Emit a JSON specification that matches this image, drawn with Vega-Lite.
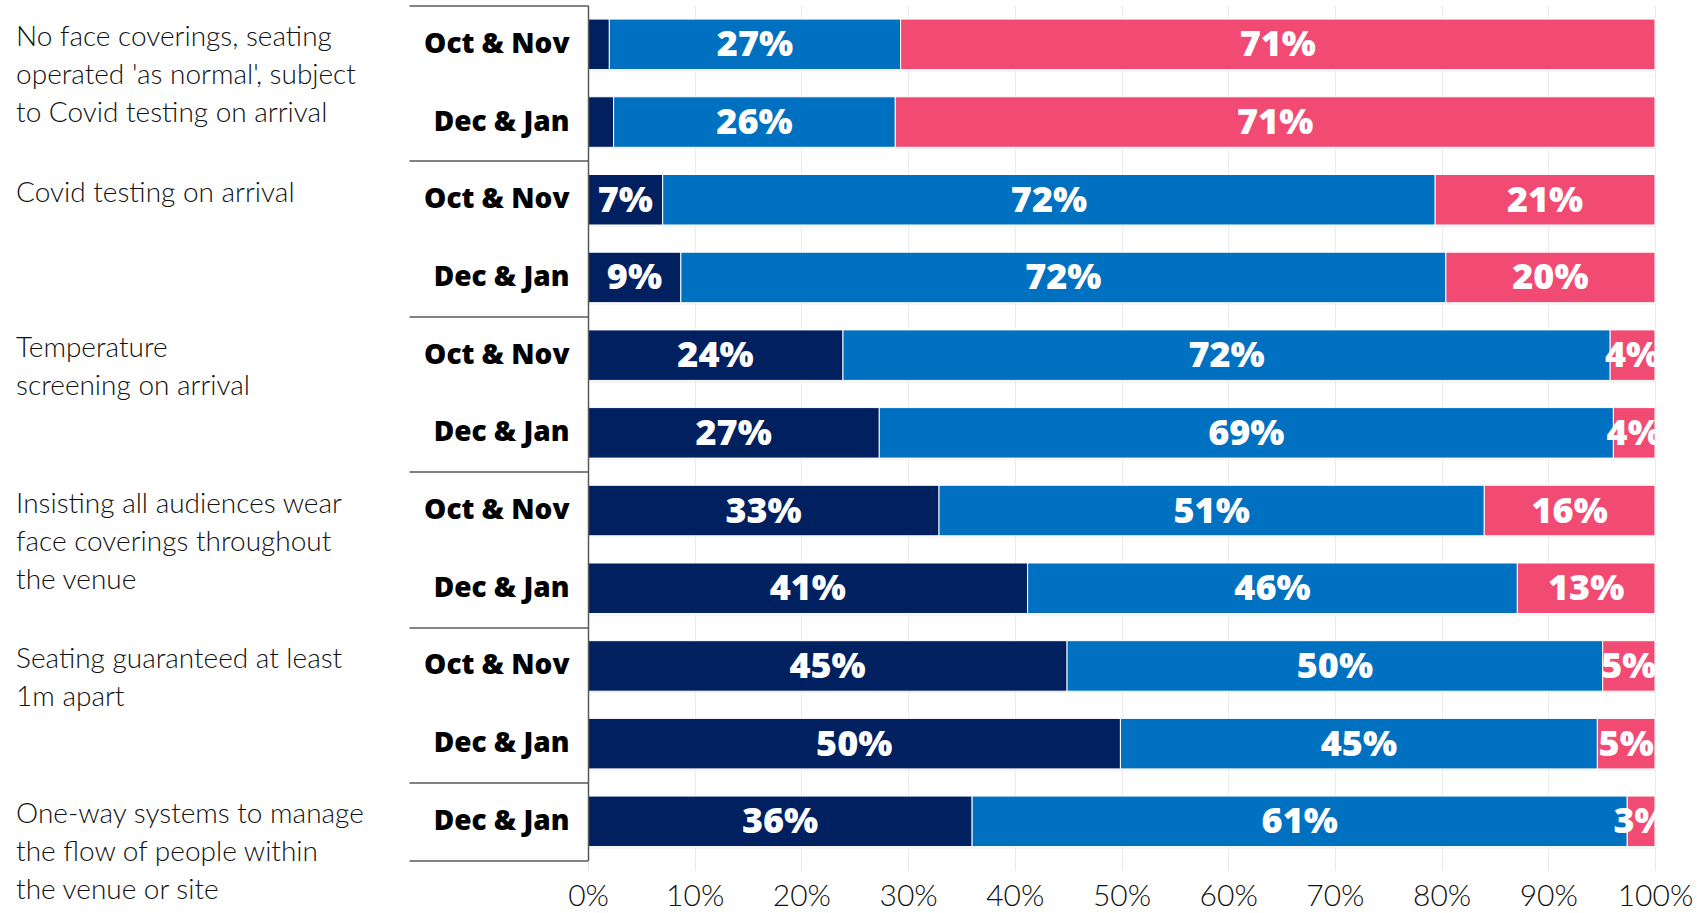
{
  "$schema": "https://vega.github.io/schema/vega-lite/v6.json",
  "autosize": {"type": "none"},
  "padding": {"left": 588, "top": 5.5, "right": 43, "bottom": 52},
  "background": "white",
  "width": 1067,
  "height": {"step": 77.7},
  "config": {"view": {"stroke": null}},
  "datasets": {
    "bars": [
      {"row": "A1|Oct & Nov", "response": "More likely", "k": 1, "value": 0.020},
      {"row": "A1|Oct & Nov", "response": "No difference", "k": 2, "value": 0.273},
      {"row": "A1|Oct & Nov", "response": "Less likely", "k": 3, "value": 0.707},
      {"row": "A2|Dec & Jan", "response": "More likely", "k": 1, "value": 0.024},
      {"row": "A2|Dec & Jan", "response": "No difference", "k": 2, "value": 0.264},
      {"row": "A2|Dec & Jan", "response": "Less likely", "k": 3, "value": 0.712},
      {"row": "B1|Oct & Nov", "response": "More likely", "k": 1, "value": 0.070},
      {"row": "B1|Oct & Nov", "response": "No difference", "k": 2, "value": 0.724},
      {"row": "B1|Oct & Nov", "response": "Less likely", "k": 3, "value": 0.206},
      {"row": "B2|Dec & Jan", "response": "More likely", "k": 1, "value": 0.087},
      {"row": "B2|Dec & Jan", "response": "No difference", "k": 2, "value": 0.717},
      {"row": "B2|Dec & Jan", "response": "Less likely", "k": 3, "value": 0.196},
      {"row": "C1|Oct & Nov", "response": "More likely", "k": 1, "value": 0.239},
      {"row": "C1|Oct & Nov", "response": "No difference", "k": 2, "value": 0.719},
      {"row": "C1|Oct & Nov", "response": "Less likely", "k": 3, "value": 0.042},
      {"row": "C2|Dec & Jan", "response": "More likely", "k": 1, "value": 0.273},
      {"row": "C2|Dec & Jan", "response": "No difference", "k": 2, "value": 0.688},
      {"row": "C2|Dec & Jan", "response": "Less likely", "k": 3, "value": 0.039},
      {"row": "D1|Oct & Nov", "response": "More likely", "k": 1, "value": 0.329},
      {"row": "D1|Oct & Nov", "response": "No difference", "k": 2, "value": 0.511},
      {"row": "D1|Oct & Nov", "response": "Less likely", "k": 3, "value": 0.160},
      {"row": "D2|Dec & Jan", "response": "More likely", "k": 1, "value": 0.412},
      {"row": "D2|Dec & Jan", "response": "No difference", "k": 2, "value": 0.459},
      {"row": "D2|Dec & Jan", "response": "Less likely", "k": 3, "value": 0.129},
      {"row": "E1|Oct & Nov", "response": "More likely", "k": 1, "value": 0.449},
      {"row": "E1|Oct & Nov", "response": "No difference", "k": 2, "value": 0.502},
      {"row": "E1|Oct & Nov", "response": "Less likely", "k": 3, "value": 0.049},
      {"row": "E2|Dec & Jan", "response": "More likely", "k": 1, "value": 0.499},
      {"row": "E2|Dec & Jan", "response": "No difference", "k": 2, "value": 0.447},
      {"row": "E2|Dec & Jan", "response": "Less likely", "k": 3, "value": 0.054},
      {"row": "F1|Dec & Jan", "response": "More likely", "k": 1, "value": 0.360},
      {"row": "F1|Dec & Jan", "response": "No difference", "k": 2, "value": 0.614},
      {"row": "F1|Dec & Jan", "response": "Less likely", "k": 3, "value": 0.026}
    ],
    "groups": [
      {"first": "A1|Oct & Nov", "label": "No face coverings, seating\noperated 'as normal', subject\nto Covid testing on arrival"},
      {"first": "B1|Oct & Nov", "label": "Covid testing on arrival"},
      {"first": "C1|Oct & Nov", "label": "Temperature\nscreening on arrival"},
      {"first": "D1|Oct & Nov", "label": "Insisting all audiences wear\nface coverings throughout\nthe venue"},
      {"first": "E1|Oct & Nov", "label": "Seating guaranteed at least\n1m apart"},
      {"first": "F1|Dec & Jan", "label": "One-way systems to manage\nthe flow of people within\nthe venue or site"}
    ]
  },
  "resolve": {"axis": {"y": "independent"}},
  "layer": [
    {
      "data": {"name": "bars"},
      "mark": {"type": "bar", "height": {"band": 0.65}, "stroke": "white", "strokeWidth": 1},
      "encoding": {
        "y": {
          "field": "row", "type": "ordinal",
          "scale": {"domain": ["A1|Oct & Nov","A2|Dec & Jan","B1|Oct & Nov","B2|Dec & Jan","C1|Oct & Nov","C2|Dec & Jan","D1|Oct & Nov","D2|Dec & Jan","E1|Oct & Nov","E2|Dec & Jan","F1|Dec & Jan"], "paddingInner": 0, "paddingOuter": 0},
          "axis": {
            "orient": "left", "title": null, "zindex": 1,
            "domain": true, "domainColor": "#595959", "domainWidth": 1.5,
            "ticks": true, "tickBand": "extent", "tickSize": 179, "tickColor": "#595959", "tickWidth": 1.5,
            "tickOpacity": {"condition": {"test": "!isValid(datum.value) || indexof(['A2','B2','C2','D2','E2','F1'], substring(datum.value, 0, 2)) >= 0", "value": 1}, "value": 0},
            "grid": false,
            "labelExpr": "split(datum.value, '|')[1]",
            "labelPadding": -160, "labelFont": "Open Sans", "labelFontWeight": 800, "labelFontSize": 28, "labelColor": "#000000", "labelLimit": 0
          }
        },
        "x": {
          "field": "value", "type": "quantitative", "stack": "zero",
          "scale": {"domain": [0, 1]},
          "axis": {
            "title": null, "format": ".0%", "values": [0, 0.1, 0.2, 0.3, 0.4, 0.5, 0.6, 0.7, 0.8, 0.9, 1],
            "labelFont": "Lato", "labelFontWeight": 300, "labelFontSize": 30, "labelColor": "#111111",
            "labelFlush": false, "labelOverlap": false, "labelPadding": 11,
            "domain": false, "ticks": true, "tickColor": "#e6e6e6", "tickSize": 10,
            "grid": true, "gridColor": "#ebebeb"
          }
        },
        "color": {
          "field": "response", "type": "nominal",
          "scale": {"domain": ["More likely", "No difference", "Less likely"], "range": ["#002060", "#0070C0", "#F14A73"]},
          "legend": null
        },
        "order": {"field": "k", "type": "quantitative"}
      }
    },
    {
      "data": {"name": "bars"},
      "mark": {"type": "text", "clip": true, "font": "Open Sans", "fontWeight": 800, "fontSize": 36, "color": "white", "baseline": "middle", "align": "center", "dy": 1},
      "encoding": {
        "y": {
          "field": "row", "type": "ordinal",
          "scale": {"domain": ["A1|Oct & Nov","A2|Dec & Jan","B1|Oct & Nov","B2|Dec & Jan","C1|Oct & Nov","C2|Dec & Jan","D1|Oct & Nov","D2|Dec & Jan","E1|Oct & Nov","E2|Dec & Jan","F1|Dec & Jan"]},
          "axis": {"orient": "right", "title": null, "labels": false, "ticks": false, "domain": false, "grid": true, "gridColor": "#ebebeb", "bandPosition": 0.84}
        },
        "x": {"field": "value", "type": "quantitative", "stack": "zero", "bandPosition": 0.5, "scale": {"domain": [0, 1]}},
        "order": {"field": "k", "type": "quantitative"},
        "text": {"condition": {"test": "datum.value < 0.025", "value": ""}, "field": "value", "type": "quantitative", "format": ".0%"}
      }
    },
    {
      "data": {"name": "groups"},
      "mark": {"type": "text", "align": "left", "baseline": "top", "dy": 19, "lineBreak": "\n", "lineHeight": 38, "font": "Lato", "fontWeight": 300, "fontSize": 28, "color": "#111111"},
      "encoding": {
        "y": {
          "field": "first", "type": "ordinal", "bandPosition": 0, "axis": null,
          "scale": {"domain": ["A1|Oct & Nov","A2|Dec & Jan","B1|Oct & Nov","B2|Dec & Jan","C1|Oct & Nov","C2|Dec & Jan","D1|Oct & Nov","D2|Dec & Jan","E1|Oct & Nov","E2|Dec & Jan","F1|Dec & Jan"]}
        },
        "x": {"datum": -0.536, "type": "quantitative", "scale": {"domain": [0, 1]}},
        "text": {"field": "label", "type": "nominal"}
      }
    }
  ]
}
